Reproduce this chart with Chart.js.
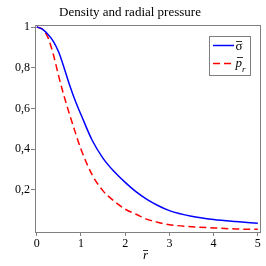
<!DOCTYPE html>
<html>
<head>
<meta charset="utf-8">
<script src="https://cdn.jsdelivr.net/npm/chart.js@4"></script>
<style>
  html, body { margin: 0; padding: 0; background: #fff; }
  #wrap { width: 266px; height: 266px; }
</style>
</head>
<body>
<div id="wrap"><canvas id="chart" width="266" height="266"></canvas></div>
<script>
// values
const rValues = [0, 0.125, 0.25, 0.375, 0.5, 0.625, 0.75, 0.875, 1, 1.25, 1.5, 1.75, 2, 2.25, 2.5, 2.75, 3, 3.5, 4, 4.5, 5];
const sigma = [1, 0.99, 0.965, 0.93, 0.875, 0.795, 0.71, 0.635, 0.57, 0.445, 0.355, 0.29, 0.237, 0.19, 0.152, 0.122, 0.098, 0.07, 0.054, 0.044, 0.036];
const pr = [1, 0.99, 0.95, 0.865, 0.755, 0.655, 0.565, 0.48, 0.40, 0.275, 0.195, 0.145, 0.105, 0.08, 0.055, 0.04, 0.029, 0.019, 0.013, 0.008, 0.006];
const xTicks = [0, 1, 2, 3, 4, 5];
const yTicks = [0.2, 0.4, 0.6, 0.8, 1];

const serif = '"Liberation Serif", "DejaVu Serif", serif';

function toPoints(ys) {
  return rValues.map((x, i) => ({ x: x, y: ys[i] }));
}

// box around the plot, the legend box and the x title
const framePlugin = {
  id: 'frame',
  afterDraw(chart) {
    const ctx = chart.ctx;
    const a = chart.chartArea;
    ctx.save();
    ctx.strokeStyle = '#808080';
    ctx.lineWidth = 1;
    ctx.strokeRect(Math.round(a.left) + 0.5, Math.round(a.top) + 0.5,
      Math.round(a.right - a.left), Math.round(a.bottom - a.top));

    // legend
    ctx.fillStyle = '#fff';
    ctx.fillRect(209.5, 36.5, 41, 39);
    ctx.strokeRect(209.5, 36.5, 41, 39);
    const ds = chart.data.datasets;
    const rows = [45.5, 63.5];
    ds.forEach((d, i) => {
      ctx.beginPath();
      ctx.strokeStyle = d.borderColor;
      ctx.lineWidth = 1.5;
      ctx.setLineDash(d.borderDash || []);
      ctx.moveTo(213, rows[i]);
      ctx.lineTo(234, rows[i]);
      ctx.stroke();
    });
    ctx.setLineDash([]);
    ctx.fillStyle = '#000';
    ctx.strokeStyle = '#000';
    ctx.lineWidth = 0.8;
    ctx.textBaseline = 'alphabetic';
    ctx.font = '13px ' + serif;
    ctx.fillText('σ', 235.5, 50);
    ctx.beginPath(); ctx.moveTo(236, 41.5); ctx.lineTo(242, 41.5); ctx.stroke();
    ctx.font = 'italic 13px ' + serif;
    ctx.fillText('p', 235.5, 67);
    ctx.beginPath(); ctx.moveTo(237, 57.5); ctx.lineTo(243, 57.5); ctx.stroke();
    ctx.font = 'italic 9px ' + serif;
    ctx.fillText('r', 242, 72);

    // x axis title r with bar
    ctx.font = 'italic 13px ' + serif;
    ctx.fillText('r', 143, 259);
    ctx.beginPath(); ctx.moveTo(143, 250.5); ctx.lineTo(148, 250.5); ctx.stroke();
    ctx.restore();
  }
};

new Chart(document.getElementById('chart'), {
  type: 'line',
  data: {
    datasets: [
      {
        label: 'σ',
        data: toPoints(sigma),
        borderColor: '#0000ff',
        borderWidth: 1.5,
        pointRadius: 0,
        cubicInterpolationMode: 'monotone'
      },
      {
        label: 'p_r',
        data: toPoints(pr),
        borderColor: '#ff0000',
        borderWidth: 1.5,
        borderDash: [7, 4],
        pointRadius: 0,
        cubicInterpolationMode: 'monotone'
      }
    ]
  },
  options: {
    responsive: false,
    animation: false,
    devicePixelRatio: 1,
    layout: { padding: { top: 0, right: 6, left: 0, bottom: 0 } },
    plugins: {
      legend: { display: false },
      tooltip: { enabled: false },
      title: {
        display: true,
        text: 'Density and radial pressure',
        color: '#000',
        font: { family: serif, size: 13, weight: 'normal' },
        padding: { top: 5, bottom: 4.4 }
      }
    },
    scales: {
      x: {
        type: 'linear',
        min: -0.04,
        max: 5.05,
        afterBuildTicks: s => { s.ticks = xTicks.map(v => ({ value: v })); },
        afterFit: s => { s.height = 34; },
        grid: { display: true, drawOnChartArea: false, drawTicks: true, tickLength: 4, color: '#808080' },
        border: { display: true, color: '#808080' },
        ticks: {
          color: '#000',
          padding: 1,
          maxRotation: 0,
          font: { family: serif, size: 12 },
          callback: v => String(v)
        }
      },
      y: {
        type: 'linear',
        min: -0.007,
        max: 1.01,
        afterBuildTicks: s => { s.ticks = yTicks.map(v => ({ value: v })); },
        afterFit: s => { s.width = 35; },
        grid: { display: true, drawOnChartArea: false, drawTicks: true, tickLength: 4, color: '#808080' },
        border: { display: true, color: '#808080' },
        ticks: {
          color: '#000',
          padding: 1,
          font: { family: serif, size: 12 },
          callback: v => String(Math.round(v * 10) / 10).replace('.', ',')
        }
      }
    }
  },
  plugins: [framePlugin]
});
</script>
</body>
</html>
